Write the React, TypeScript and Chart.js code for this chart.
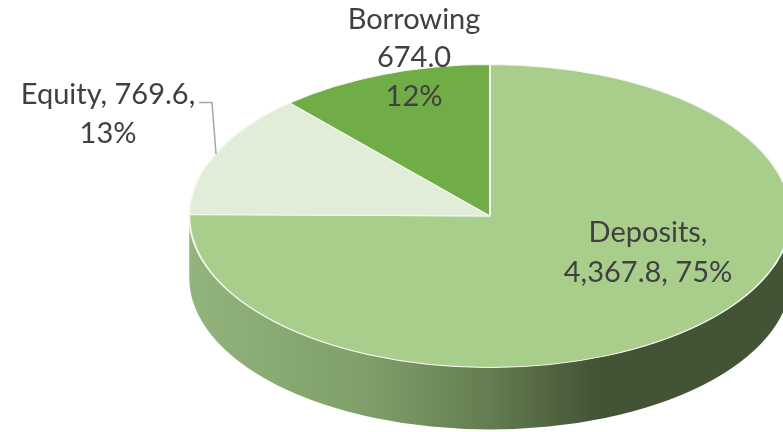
import React, { useEffect, useRef } from "react";
import { Chart, registerables } from "chart.js";

Chart.register(...registerables);

const categories = ["Deposits", "Equity", "Borrowing"];
const amounts = [4367.8, 769.6, 674.0];
const sliceColors = ["#A9CE8C", "#E1EDD8", "#70AD47"];

const total = amounts.reduce((a, b) => a + b, 0);
const fmt = (v: number) =>
  v.toLocaleString("en-US", { minimumFractionDigits: 1, maximumFractionDigits: 1 });
const pct = (v: number) => `${Math.round((v / total) * 100)}%`;

const labelLines = [
  [`${categories[0]},`, `${fmt(amounts[0])}, ${pct(amounts[0])}`],
  [`${categories[1]}, ${fmt(amounts[1])},`, pct(amounts[1])],
  [categories[2], fmt(amounts[2]), pct(amounts[2])],
];
const labelAnchors = [
  { x: 648, ys: [233, 273] },
  { x: 108, ys: [95, 134] },
  { x: 414, ys: [20, 58, 97] },
];

// Horizontal stretch that turns the round pie into a tilted disc, and the rim height.
const TILT = 1.985;
const RIM = 62;

const tiltedPie = {
  id: "tiltedPie",
  beforeDatasetsDraw(chart: any) {
    const { ctx } = chart;
    const arc = chart.getDatasetMeta(0).data[0];
    const { x, y, outerRadius: r } = arc.getProps(["x", "y", "outerRadius"], true);
    const rx = r * TILT;

    // Rim of the disc: the front half of the ellipse pushed down by the rim height.
    const rim = ctx.createLinearGradient(x - rx, 0, x + rx, 0);
    rim.addColorStop(0, "#92B47C");
    rim.addColorStop(0.3, "#7F9E69");
    rim.addColorStop(0.5, "#637C50");
    rim.addColorStop(0.68, "#435336");
    rim.addColorStop(1, "#435336");
    ctx.save();
    ctx.beginPath();
    ctx.ellipse(x, y, rx, r, 0, 0, Math.PI);
    ctx.lineTo(x - rx, y + RIM);
    ctx.ellipse(x, y + RIM, rx, r, 0, Math.PI, 0, true);
    ctx.closePath();
    ctx.fillStyle = rim;
    ctx.fill();
    ctx.restore();

    ctx.save();
    ctx.translate(x, y);
    ctx.scale(TILT, 1);
    ctx.translate(-x, -y);
  },
  afterDatasetsDraw(chart: any) {
    chart.ctx.restore();
  },
};

const sliceLabels = {
  id: "sliceLabels",
  afterDraw(chart: any) {
    const { ctx } = chart;
    ctx.save();
    ctx.strokeStyle = "#A6A6A6";
    ctx.lineWidth = 1.5;
    ctx.beginPath();
    ctx.moveTo(199, 102.5);
    ctx.lineTo(212, 102.5);
    ctx.lineTo(216, 154);
    ctx.stroke();

    ctx.fillStyle = "#404040";
    ctx.font = "29px Lato";
    ctx.textAlign = "center";
    ctx.textBaseline = "middle";
    labelLines.forEach((lines, i) => {
      lines.forEach((line, j) => {
        ctx.fillText(line, labelAnchors[i].x, labelAnchors[i].ys[j]);
      });
    });
    ctx.restore();
  },
};

export default function App() {
  const ref = useRef<HTMLCanvasElement>(null);

  useEffect(() => {
    const chart = new Chart(ref.current!, {
      type: "pie",
      data: {
        labels: categories,
        datasets: [
          {
            data: amounts,
            backgroundColor: sliceColors,
            borderColor: "#F4F8F1",
            borderWidth: 1,
          },
        ],
      },
      options: {
        responsive: false,
        animation: false,
        layout: { padding: { left: 338, right: 141, top: 64, bottom: 64 } },
        plugins: { legend: { display: false }, tooltip: { enabled: false } },
      },
      plugins: [tiltedPie, sliceLabels],
    });
    return () => chart.destroy();
  }, []);

  return (
    <canvas
      ref={ref}
      width={783}
      height={432}
      style={{ position: "fixed", left: 0, top: 0, display: "block" }}
    />
  );
}
